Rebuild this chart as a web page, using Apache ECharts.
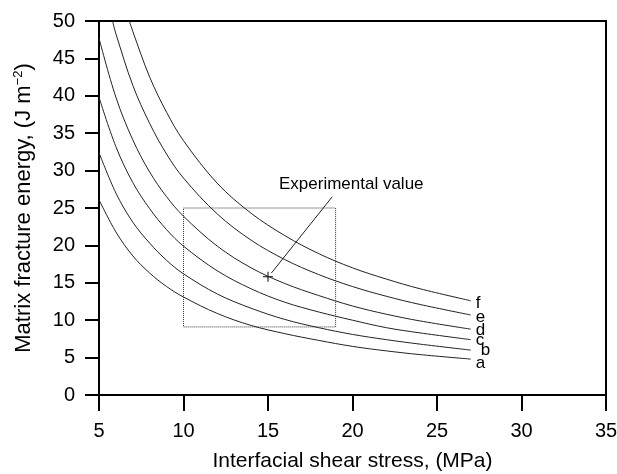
<!DOCTYPE html>
<html>
<head>
    <meta charset="utf-8" />
    <title>Matrix fracture energy vs interfacial shear stress</title>
    <script src="https://cdn.jsdelivr.net/npm/echarts@6/dist/echarts.min.js"></script>
    <style type="text/css">
        html,
        body {
            width: 100%;
            height: 100%;
            margin: 0;
            background: #fff;
        }

        #main {
            width: 617px;
            height: 474px;
        }
    </style>
</head>

<body>
    <div id="main"></div>
    <script>
        // values
        var curveNames = ['a', 'b', 'c', 'd', 'e', 'f'];
        var xsAD = [5, 6, 7, 8, 9, 10, 12, 14, 16, 18, 20, 22, 24, 27];
        var xsE = [5.8, 6, 7, 8, 9, 10, 12, 14, 16, 18, 20, 22, 24, 27];
        var xsF = [6.8, 7, 8, 9, 10, 12, 14, 16, 18, 20, 22, 24, 27];
        var yA = [26.1, 21.8, 18.6, 16.3, 14.5, 13.1, 10.9, 9.3, 8.2, 7.3, 6.5, 5.9, 5.4, 4.8];
        var yB = [32.4, 27.0, 23.1, 20.3, 18.0, 16.2, 13.5, 11.6, 10.1, 9.0, 8.1, 7.4, 6.8, 6.0];
        var yC = [39.8, 33.2, 28.4, 24.9, 22.1, 19.9, 16.6, 14.2, 12.4, 11.1, 10.0, 9.0, 8.3, 7.4];
        var yD = [47.7, 39.8, 34.1, 29.8, 26.5, 23.9, 19.9, 17.0, 14.9, 13.3, 11.9, 10.8, 9.9, 8.8];
        var yE = [50, 48.3, 41.4, 36.3, 32.2, 29.0, 24.2, 20.7, 18.1, 16.1, 14.5, 13.2, 12.1, 10.7];
        var yF = [50, 48.6, 42.5, 37.8, 34.0, 28.3, 24.3, 21.3, 18.9, 17.0, 15.5, 14.2, 12.6];

        // experimental window and point
        var boxX = [10, 19, 19, 10, 10];
        var boxY = [25, 25, 9.1, 9.1, 25];
        var expPoint = [15, 15.8];
        var leaderX = [15.2, 18.8];
        var leaderY = [16.3, 26.5];
        var noteAt = [15.65, 28.1];
        var noteText = 'Experimental value';

        var xTicks = [5, 10, 15, 20, 25, 30, 35];
        var yTicks = [0, 5, 10, 15, 20, 25, 30, 35, 40, 45, 50];

        function pairs(xs, ys) {
            return xs.map(function (x, i) { return [x, ys[i]]; });
        }

        var font = 'Liberation Sans, Arial, sans-serif';
        var curveX = [xsAD, xsAD, xsAD, xsAD, xsE, xsF];
        var curveY = [yA, yB, yC, yD, yE, yF];
        // small nudges so the letters sit like the original
        var labelOffset = [[2, 4], [7, 0], [2, 1], [2, 1], [2, 2], [2, 3]];

        var series = curveNames.map(function (n, i) {
            return {
                name: n,
                type: 'line',
                data: pairs(curveX[i], curveY[i]),
                smooth: 0.35,
                showSymbol: false,
                lineStyle: { color: '#222', width: 1 },
                endLabel: {
                    show: true,
                    formatter: '{a}',
                    distance: 3,
                    offset: labelOffset[i],
                    color: '#000',
                    fontSize: 17,
                    fontFamily: font
                },
                silent: true
            };
        });

        series.push({
            name: 'box',
            type: 'line',
            data: pairs(boxX, boxY),
            showSymbol: false,
            lineStyle: { color: '#333', width: 1, type: [1, 1] },
            silent: true
        });
        series.push({
            name: 'leader',
            type: 'line',
            data: pairs(leaderX, leaderY),
            showSymbol: false,
            lineStyle: { color: '#222', width: 1 },
            silent: true
        });
        series.push({
            name: 'experimental',
            type: 'scatter',
            data: [expPoint],
            symbol: 'path://M4.5,0H5.5V4.5H10V5.5H5.5V10H4.5V5.5H0V4.5H4.5Z',
            symbolSize: 10,
            itemStyle: { color: '#000', opacity: 1 },
            silent: true
        });
        series.push({
            name: 'note',
            type: 'scatter',
            data: [noteAt],
            symbolSize: 0,
            itemStyle: { opacity: 1 },
            label: {
                show: true,
                position: 'right',
                distance: 0,
                formatter: noteText,
                color: '#000',
                fontSize: 17,
                fontFamily: font
            },
            silent: true
        });

        var chart = echarts.init(document.getElementById('main'));
        chart.setOption({
            animation: false,
            textStyle: { fontFamily: font },
            grid: {
                left: 99, top: 21, right: 11, bottom: 79,
                outerBoundsMode: 'none',
                containLabel: false,
                show: true, borderColor: '#000', borderWidth: 2
            },
            xAxis: {
                type: 'value',
                min: xTicks[0],
                max: xTicks[xTicks.length - 1],
                interval: 5,
                name: 'Interfacial shear stress, (MPa)',
                nameLocation: 'middle',
                nameGap: 56,
                nameTextStyle: { fontSize: 21, color: '#000' },
                axisLine: { lineStyle: { color: '#000', width: 2 } },
                axisTick: { inside: false, length: 16, lineStyle: { color: '#000', width: 2 } },
                axisLabel: { fontSize: 20, color: '#000', margin: 26 },
                splitLine: { show: false }
            },
            yAxis: {
                type: 'value',
                min: yTicks[0],
                max: yTicks[yTicks.length - 1],
                interval: 5,
                name: 'Matrix fracture energy, (J m{sup|−2})',
                nameLocation: 'middle',
                nameGap: 63,
                nameTextStyle: {
                    fontSize: 22,
                    color: '#000',
                    rich: {
                        sup: { fontSize: 13, verticalAlign: 'top', padding: [0, 0, 11, 0] }
                    }
                },
                axisLine: { lineStyle: { color: '#000', width: 2 } },
                axisTick: { inside: false, length: 14, lineStyle: { color: '#000', width: 2 } },
                axisLabel: { fontSize: 20, color: '#000', margin: 24 },
                splitLine: { show: false }
            },
            series: series
        });
    </script>
</body>
</html>
